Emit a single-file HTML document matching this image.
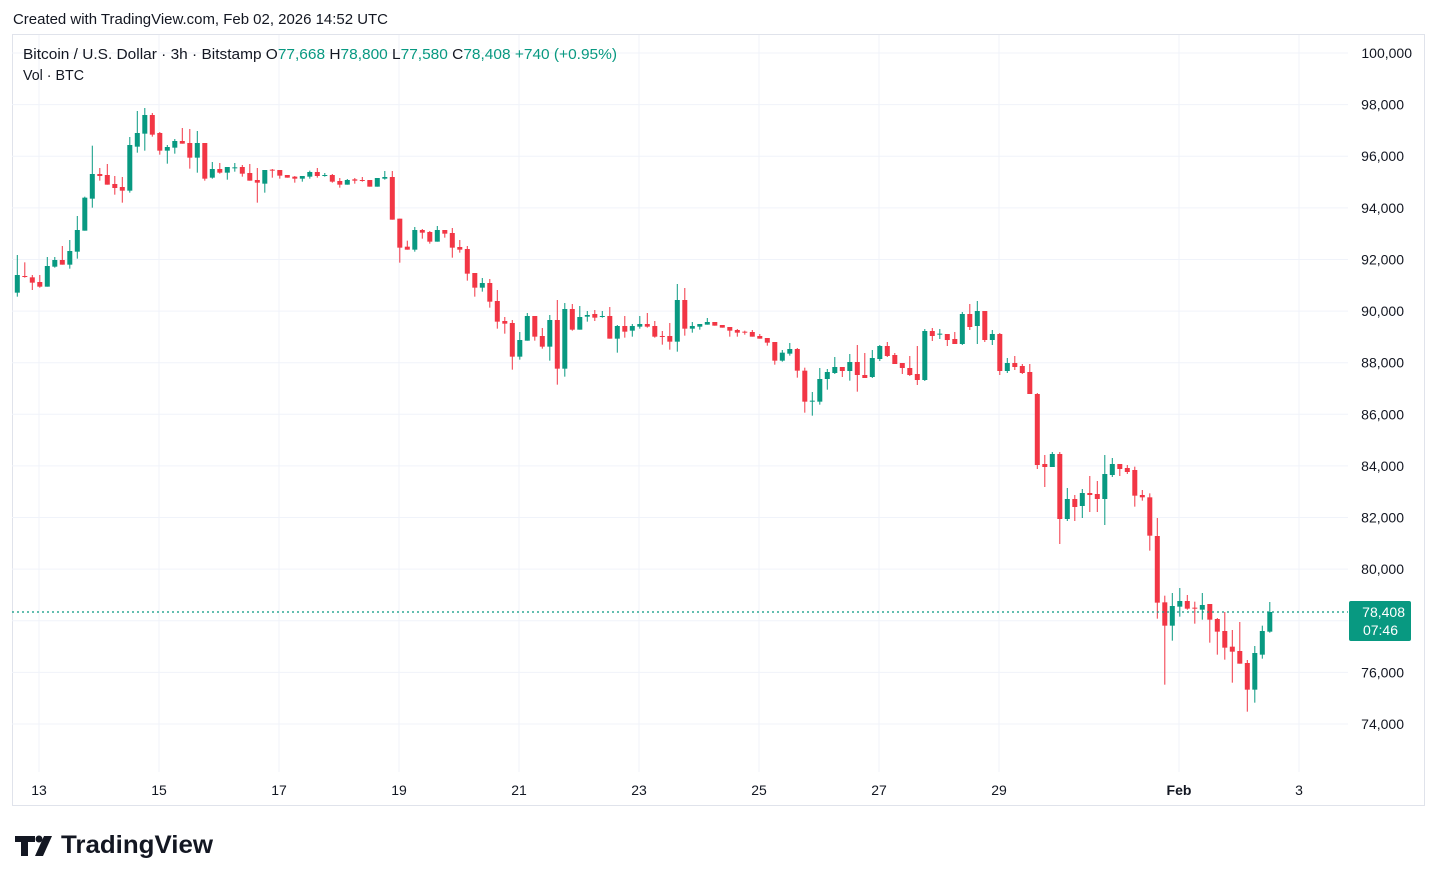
<!DOCTYPE html>
<html><head><meta charset="utf-8"><style>
body{margin:0;background:#fff;width:1438px;height:882px;overflow:hidden;font-family:"Liberation Sans",sans-serif}
svg{position:absolute;left:0;top:0}
</style></head><body>
<svg id="s" width="1438" height="882" xmlns="http://www.w3.org/2000/svg" font-family="Liberation Sans, sans-serif">
<rect x="12.5" y="34.5" width="1412" height="771" fill="none" stroke="#e0e3eb"/>
<g id="grid"></g>
<g id="c"></g>
<line x1="12" y1="612" x2="1348" y2="612" stroke="#089981" stroke-dasharray="2,3" stroke-width="1.2"/>
<rect x="1349" y="601" width="62" height="40" rx="2" fill="#089981"/>
<text x="1405" y="617" fill="#fff" font-size="14" text-anchor="end">78,408</text>
<text x="1398" y="635" fill="#fff" font-size="14" text-anchor="end">07:46</text>
<text x="13" y="24" font-size="15" fill="#131722" textLength="375" lengthAdjust="spacingAndGlyphs">Created with TradingView.com, Feb 02, 2026 14:52 UTC</text>
<text x="23" y="59" font-size="15" fill="#131722" textLength="594" lengthAdjust="spacingAndGlyphs">Bitcoin / U.S. Dollar · 3h · Bitstamp  <tspan>O</tspan><tspan fill="#089981">77,668</tspan>  <tspan>H</tspan><tspan fill="#089981">78,800</tspan>  <tspan>L</tspan><tspan fill="#089981">77,580</tspan>  <tspan>C</tspan><tspan fill="#089981">78,408  +740 (+0.95%)</tspan></text>
<text x="23" y="80" font-size="15" fill="#131722" textLength="61" lengthAdjust="spacingAndGlyphs">Vol · BTC</text>
<g fill="#131722">
<path d="M15 836h20v6h-7v14h-7v-14h-6z"/>
<circle cx="39" cy="839" r="3.5"/>
<path d="M44 836h8l-9 20h-8z"/>
</g>
<text x="61" y="853" font-size="25" font-weight="bold" fill="#131722" textLength="152" lengthAdjust="spacingAndGlyphs">TradingView</text>
</svg>
<script>
var g=document.getElementById('grid'),c=document.getElementById('c'),h='';
for(var k=0;k<=13;k++){var y=53+k*51.615;h+='<line x1="12" x2="1348" y1="'+y+'" y2="'+y+'" stroke="#f0f3fa"/>';
h+='<text x="'+(k==0?1412:1404)+'" y="'+(y+5)+'" font-size="14" fill="#131722" text-anchor="end">'+(100-2*k)+',000</text>';}
var xs=[[39,'13'],[159,'15'],[279,'17'],[399,'19'],[519,'21'],[639,'23'],[759,'25'],[879,'27'],[999,'29'],[1179,'Feb'],[1299,'3']];
xs.forEach(function(a){h+='<line x1="'+a[0]+'" x2="'+a[0]+'" y1="35" y2="772" stroke="#f0f3fa"/>';
h+='<text x="'+a[0]+'" y="795" font-size="14" fill="#131722" text-anchor="middle"'+(a[1]=='Feb'?' font-weight="bold"':'')+'>'+a[1]+'</text>';});
g.innerHTML=h;
var s1=[[578,465,590,525],[528,487,533,531],[532,525,570,548],[546,525,563,560],[560,471,560,498],[500,471,503,480],[480,438,494,494],[494,420,506,453],[455,348,476,390],[392,290,392,293],[296,137,323,222],[222,204,242,228],[225,192,254,254],[252,228,284,264],[261,231,308,272],[272,111,278,135],[140,33,158,99],[101,24,152,45],[45,39,110,104],[99,96,164,152],[152,135,191,141],[143,117,161,123],[123,84,131,131],[129,87,206,173],[173,93,218,129],[129,129,242,236],[233,186,236,207],[207,189,221,218],[218,201,239,201],[204,189,215,202],[201,195,230,221],[219,192,242,242],[240,204,308,248],[251,210,278,210],[209,207,233,212],[210,210,236,227],[225,225,233,233],[230,228,248,236],[236,228,245,228],[230,212,236,216],[216,204,233,228],[228,219,230,225],[225,222,248,245],[243,234,263,254],[254,237,254,240],[238,234,251,242],[240,231,245,243],[240,240,260,260],[260,234,260,234],[236,213,239,231],[231,213,359,359],[356,356,488,443],[440,422,449,449]];
var s2=[[269,201,275,210],[210,207,236,218],[216,213,251,245],[245,198,245,210],[210,210,233,221],[219,204,293,263],[261,240,278,269],[267,258,362,341],[339,339,410,383],[383,354,395,369],[369,357,443,425],[423,390,506,485],[483,471,521,491],[489,480,629,590],[590,516,599,540],[542,459,542,468],[468,468,542,530],[528,504,566,560],[560,465,602,480],[480,420,674,626],[626,429,650,447],[447,432,512,509],[509,438,509,471],[470,453,485,465],[462,450,483,473],[471,453,473,468],[468,441,536,536],[536,495,578,498],[498,468,533,515],[512,492,530,498],[500,468,506,492],[492,459,503,500],[498,483,533,530],[528,513,554,530],[528,489,569,545],[545,372,575,420],[420,384,527,506],[506,486,518,498],[500,492,509,492],[494,474,494,486],[486,486,497,497],[495,495,503,503],[501,501,530,512],[510,507,530,518],[515,512,524,518],[516,510,530,530],[528,522,536,536],[534,534,557,548],[546,546,614,602],[602,570,605,578],[581,549,587,567],[567,564,653,632],[632,623,758,725]];
var s3=[[335,306,377,332],[335,234,344,267],[267,237,299,246],[249,201,252,231],[231,231,261,243],[243,192,272,216],[216,165,305,255],[255,189,264,264],[261,180,264,204],[207,165,213,168],[168,156,201,198],[195,189,222,222],[219,219,252,234],[234,198,258,255],[252,168,285,270],[270,117,273,123],[123,114,153,138],[134,117,147,131],[132,132,168,150],[147,126,162,162],[162,66,165,72],[72,42,120,111],[108,33,162,63],[63,63,156,150],[150,120,165,132],[132,129,255,243],[243,204,249,219],[219,198,240,231],[228,222,252,249],[246,222,312,312],[312,309,537,525],[522,495,591,531],[531,486,531,492],[492,486,762,687],[687,594,693,627],[627,615,693,651],[648,597,684,609],[609,558,666,615],[612,573,666,627],[627,495,705,552],[555,504,561,522],[522,522,558,537],[534,525,552,546]];
var s4=[[-30,-40,80,47],[45,30,62,52],[52,40,212,167],[168,114,416,368],[367,347,614,437],[437,339,482,378],[380,324,410,363],[363,345,389,386],[383,365,431,386],[389,339,419,375],[372,372,488,419],[417,414,524,455],[453,396,539,503],[500,450,608,515],[513,426,551,551],[549,540,695,629],[629,498,668,519],[524,437,536,453],[455,366,458,396]];
var all=[];
s1.forEach(function(a){all.push(a.map(function(v){return 100+v/3}))});
s2.forEach(function(a){all.push(a.map(function(v){return 160+v/3}))});
s3.forEach(function(a){all.push(a.map(function(v){return 290+v/3}))});
s4.forEach(function(a){all.push(a.map(function(v){return 480+v/3}))});
var o='';
all.forEach(function(a,i){var x=17.3+i*7.5,up=a[3]<=a[0],col=up?'#089981':'#f23645';
var t=Math.min(a[0],a[3]),b=Math.max(a[0],a[3]);if(b-t<1){b=t+1}
o+='<line x1="'+x+'" x2="'+x+'" y1="'+a[1]+'" y2="'+a[2]+'" stroke="'+col+'" stroke-width="1"/>';
o+='<rect x="'+(x-2.5)+'" y="'+t+'" width="5" height="'+(b-t)+'" fill="'+col+'"/>';});
c.innerHTML=o;
</script>
</body></html>
